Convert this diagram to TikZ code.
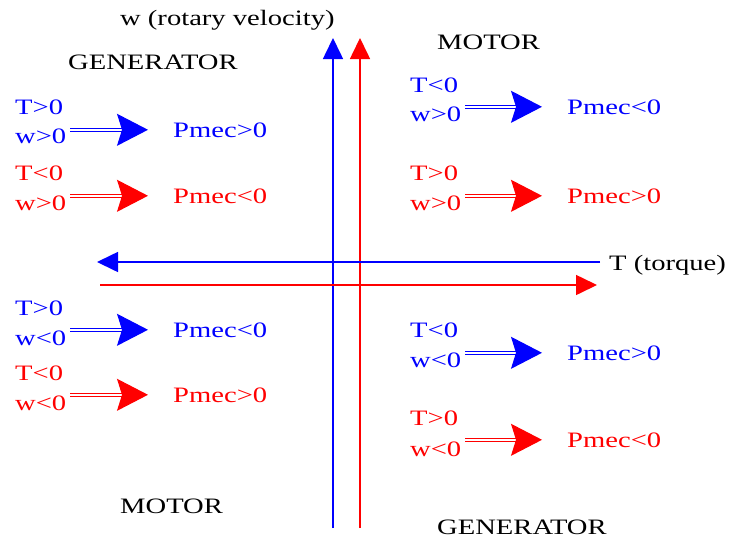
\documentclass[tikz,border=0pt]{standalone}
\usepackage{fontspec}
\setmainfont{Liberation Serif}[FakeStretch=1.3]
\usepackage{xcolor}
\usetikzlibrary{arrows.meta}
\definecolor{qblue}{HTML}{0000FF}
\definecolor{qred}{HTML}{FF0000}

\begin{document}
\begin{tikzpicture}[x=1pt,y=-1pt,
  lbl/.style={font=\fontsize{22}{30}\selectfont,inner sep=0pt,anchor=base west},
  axisb/.style={line width=1.6pt,color=qblue,-{Triangle[length=21pt,width=20pt]}},
  axisr/.style={line width=1.6pt,color=qred,-{Triangle[length=21pt,width=20pt]}},
  dbl/.style={double,double distance=2.2pt,line width=1.1pt,shorten <=4pt,shorten >=25pt,
    -{Stealth[length=31pt,width=32pt,inset=5pt]}}
]
\useasboundingbox (0,0) rectangle (737,542);
% axes
\coordinate (wb0) at (333,528);
\coordinate (wb1) at (333,38);
\coordinate (wr0) at (360,528);
\coordinate (wr1) at (360,38);
\coordinate (tb0) at (600,262);
\coordinate (tb1) at (97,262);
\coordinate (tr0) at (100,285);
\coordinate (tr1) at (597,285);
\draw[axisb] (wb0)--(wb1);
\draw[axisr] (wr0)--(wr1);
\draw[axisb] (tb0)--(tb1);
\draw[axisr] (tr0)--(tr1);
\node[lbl] (wlabel) at (120,25) {w (rotary velocity)};
\node[lbl] (tlabel) at (609,270) {T (torque)};
\node[lbl] (gen1) at (68,69) {GENERATOR};
\node[lbl] (mot1) at (437,49) {MOTOR};
\node[lbl] (mot2) at (120,513) {MOTOR};
\node[lbl] (gen2) at (437,534) {GENERATOR};
% upper left
\node[lbl,text=qblue] (t1) at (15,114) {T>0};
\node[lbl,text=qblue] (w1) at (15,143) {w>0};
\node[lbl,text=qblue] (p1) at (173,137) {Pmec>0};
\node[lbl,text=qred] (t2) at (15,180) {T<0};
\node[lbl,text=qred] (w2) at (15,210) {w>0};
\node[lbl,text=qred] (p2) at (173,203) {Pmec<0};
% upper right
\node[lbl,text=qblue] (t3) at (410,92) {T<0};
\node[lbl,text=qblue] (w3) at (410,121) {w>0};
\node[lbl,text=qblue] (p3) at (567,114) {Pmec<0};
\node[lbl,text=qred] (t4) at (410,180) {T>0};
\node[lbl,text=qred] (w4) at (410,210) {w>0};
\node[lbl,text=qred] (p4) at (567,203) {Pmec>0};
% lower left
\node[lbl,text=qblue] (t5) at (15,315) {T>0};
\node[lbl,text=qblue] (w5) at (15,345) {w<0};
\node[lbl,text=qblue] (p5) at (173,337) {Pmec<0};
\node[lbl,text=qred] (t6) at (15,380) {T<0};
\node[lbl,text=qred] (w6) at (15,410) {w<0};
\node[lbl,text=qred] (p6) at (173,402) {Pmec>0};
% lower right
\node[lbl,text=qblue] (t7) at (410,337) {T<0};
\node[lbl,text=qblue] (w7) at (410,367) {w<0};
\node[lbl,text=qblue] (p7) at (567,360) {Pmec>0};
\node[lbl,text=qred] (t8) at (410,425) {T>0};
\node[lbl,text=qred] (w8) at (410,456) {w<0};
\node[lbl,text=qred] (p8) at (567,447) {Pmec<0};
\draw[dbl,qblue] (w1.east |- p1.west)--(p1.west);
\draw[dbl,qred] (w2.east |- p2.west)--(p2.west);
\draw[dbl,qblue] (w3.east |- p3.west)--(p3.west);
\draw[dbl,qred] (w4.east |- p4.west)--(p4.west);
\draw[dbl,qblue] (w5.east |- p5.west)--(p5.west);
\draw[dbl,qred] (w6.east |- p6.west)--(p6.west);
\draw[dbl,qblue] (w7.east |- p7.west)--(p7.west);
\draw[dbl,qred] (w8.east |- p8.west)--(p8.west);
\end{tikzpicture}
\end{document}
